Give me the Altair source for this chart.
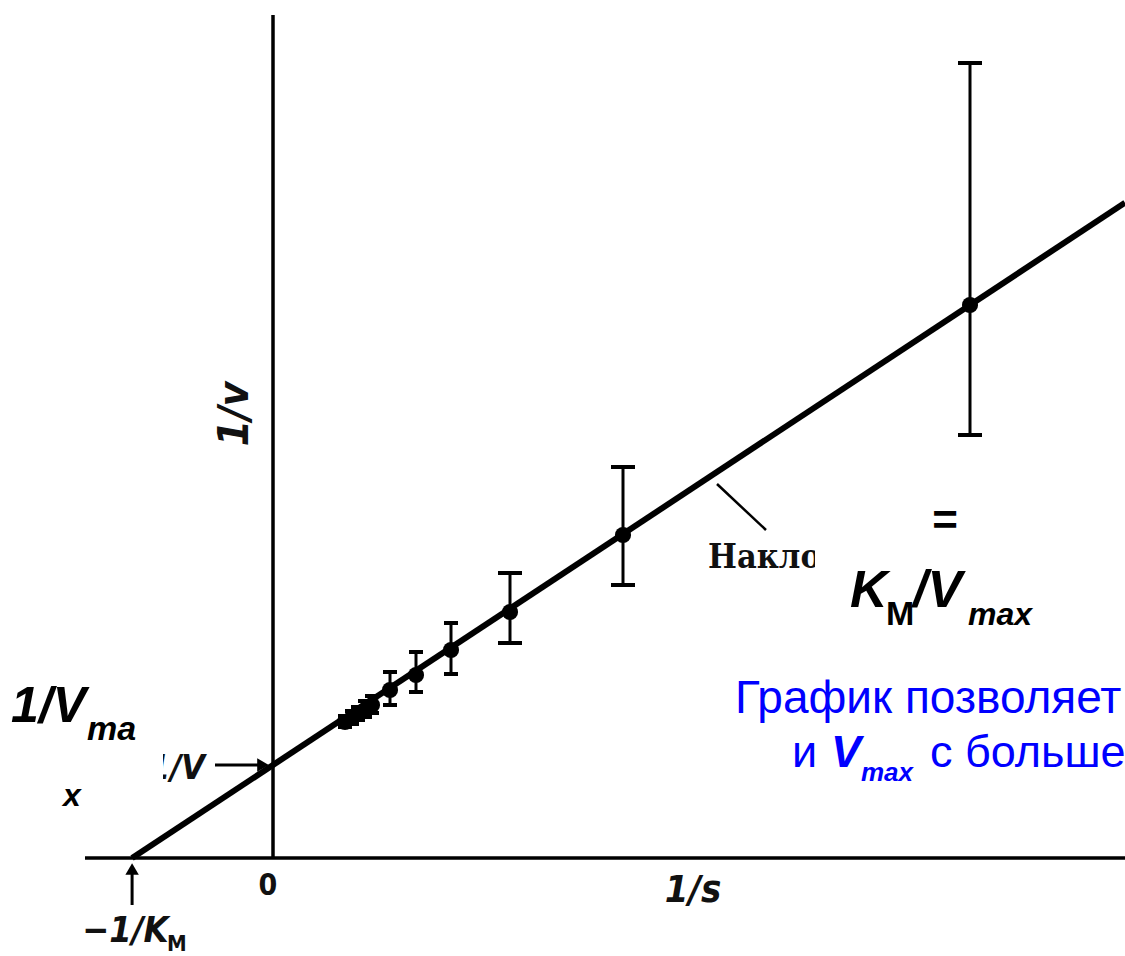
import altair as alt
import pandas as pd

# Lineweaver–Burk plot: 1/v against 1/s with error bars
inv_s = [0.72, 0.79, 0.85, 0.92, 0.99, 1.17, 1.43, 1.78, 2.37, 3.50, 6.97]
inv_v = [1.36, 1.40, 1.44, 1.48, 1.53, 1.68, 1.83, 2.08, 2.46, 3.23, 5.53]
err_lo = [1.31, 1.34, 1.38, 1.41, 1.45, 1.53, 1.66, 1.84, 2.15, 2.73, 4.23]
err_hi = [1.42, 1.47, 1.51, 1.57, 1.62, 1.86, 2.06, 2.35, 2.85, 3.91, 7.95]

# fitted straight line 1/v = 1/Vmax + (Km/Vmax) * 1/s
inv_vmax = 0.93
slope = 0.66
neg_inv_km = -inv_vmax / slope

X_DOM = [-2.73, 8.52]
Y_DOM = [-0.98, 8.58]

xs = alt.Scale(domain=X_DOM, nice=False, zero=False)
ys = alt.Scale(domain=Y_DOM, nice=False, zero=False)


def X(f="x"):
    return alt.X(f"{f}:Q", scale=xs, axis=None)


def Y(f="y"):
    return alt.Y(f"{f}:Q", scale=ys, axis=None)


pts = pd.DataFrame({"x": inv_s, "y": inv_v, "lo": err_lo, "hi": err_hi})
fit = pd.DataFrame({"x": [neg_inv_km, X_DOM[1]],
                    "y": [inv_vmax + slope * neg_inv_km, inv_vmax + slope * X_DOM[1]]})

# coordinate axes drawn as plain lines
axes_df = pd.DataFrame({"x": [0.0, -1.88], "x2": [0.0, X_DOM[1]],
                        "y": [0.0, 0.0], "y2": [8.43, 0.0]})
axes_layer = alt.Chart(axes_df).mark_rule(color="#000", strokeWidth=3.5).encode(
    x=X(), x2="x2:Q", y=Y(), y2="y2:Q")

line = alt.Chart(fit).mark_line(color="#000", strokeWidth=6).encode(x=X(), y=Y())

cap_size = alt.condition("datum.x > 2", alt.value(24), alt.value(14))
bars = alt.Chart(pts).mark_rule(color="#000", strokeWidth=3).encode(
    x=X(), y=Y("lo"), y2="hi:Q")
caps_lo = alt.Chart(pts).mark_tick(orient="horizontal", color="#000", thickness=4, opacity=1).encode(
    x=X(), y=Y("lo"), size=cap_size)
caps_hi = alt.Chart(pts).mark_tick(orient="horizontal", color="#000", thickness=4, opacity=1).encode(
    x=X(), y=Y("hi"), size=cap_size)
dots = alt.Chart(pts).mark_circle(color="#000", opacity=1, size=260).encode(x=X(), y=Y())

# arrows pointing at the two intercepts
arrow_lines = pd.DataFrame({"x": [-0.58, neg_inv_km], "x2": [-0.08, neg_inv_km],
                            "y": [inv_vmax, -0.47], "y2": [inv_vmax, -0.1]})
arrows = alt.Chart(arrow_lines).mark_rule(color="#000", strokeWidth=3).encode(
    x=X(), x2="x2:Q", y=Y(), y2="y2:Q")
heads = pd.DataFrame({"x": [-0.10, neg_inv_km], "y": [inv_vmax, -0.11],
                      "shape": ["triangle-right", "triangle-up"]})
arrow_heads = alt.Chart(heads).mark_point(filled=True, color="#000", opacity=1, size=180).encode(
    x=X(), y=Y(), shape=alt.Shape("shape:N", scale=None))

# slope leader line
leader = alt.Chart(pd.DataFrame({"x": [4.44], "x2": [4.93], "y": [3.74], "y2": [3.28]})).mark_rule(
    color="#000", strokeWidth=2.5).encode(x=X(), x2="x2:Q", y=Y(), y2="y2:Q")

SCAN = "Liberation Sans Narrow, DejaVu Sans Condensed, Liberation Sans"
SERIF = "DejaVu Serif Condensed, Liberation Serif"
SANS = "Liberation Sans, Arial"


def label(text, x, y, size, font=SANS, weight="normal", style="normal",
          color="#000", align="left", angle=0):
    df = pd.DataFrame({"x": [x], "y": [y], "t": [text]})
    return alt.Chart(df).mark_text(
        font=font, fontSize=size, fontWeight=weight, fontStyle=style, color=color,
        align=align, baseline="alphabetic", angle=angle, clip=True
    ).encode(x=X(), y=Y(), text="t:N")


scan_text = [
    label("1/v", -0.25, 4.44, 42, SCAN, "bold", "italic", "#111", "center", 270),
    label("0", -0.05, -0.37, 30, SCAN, "bold", color="#111", align="center"),
    label("1/s", 4.20, -0.44, 38, SCAN, "bold", "italic", "#111", "center"),
    label("−1/K", -1.91, -0.84, 36, SCAN, "bold", "italic", "#111"),
    label("M", -1.06, -0.93, 22, SCAN, "bold", color="#111"),
    label("1/V", -0.68, 0.79, 34, SCAN, "bold", "italic", "#111", "right"),
    label("Наклон", 4.35, 2.90, 34, SERIF, "bold", color="#111"),
]

# white panels behind the overlaid formulas
panels = pd.DataFrame({"x": [-2.73, 5.42], "x2": [-1.10, 7.80],
                       "y": [1.78, 3.63], "y2": [0.73, 2.26]})
panel_layer = alt.Chart(panels).mark_rect(color="white").encode(
    x=X(), x2="x2:Q", y=Y(), y2="y2:Q")

overlay_text = [
    label("1/V", -2.62, 1.36, 50, SANS, "bold", "italic"),
    label("ma", -1.86, 1.18, 34, SANS, "bold", "italic"),
    label("x", -2.10, 0.52, 32, SANS, "bold", "italic"),
    label("=", 6.72, 3.23, 44, SANS, "bold", align="center"),
    label("K", 5.77, 2.51, 52, SANS, "bold", "italic"),
    label("M", 6.13, 2.33, 34, SANS, "bold"),
    label("/V", 6.40, 2.51, 52, SANS, "bold", "italic"),
    label("max", 6.95, 2.33, 32, SANS, "bold", "italic"),
    label("График позволяет определить", 4.62, 1.45, 46, SANS, color="#0000ff"),
    label("и", 5.19, 0.91, 45, SANS, color="#0000ff"),
    label("V", 5.58, 0.91, 45, SANS, "bold", "italic", "#0000ff"),
    label("max", 5.88, 0.77, 26, SANS, "bold", "italic", "#0000ff"),
    label("с большей точностью", 6.57, 0.91, 45, SANS, color="#0000ff"),
]

chart = alt.layer(
    axes_layer, bars, caps_lo, caps_hi, line, dots, arrows, arrow_heads, leader,
    *scan_text, panel_layer, *overlay_text
).properties(
    width=1125, height=956, padding=0, autosize=alt.AutoSizeParams(type="none"),
    background="white"
).configure_view(stroke=None)

chart.save("out.html", embed_options={"renderer": "svg", "actions": False})
